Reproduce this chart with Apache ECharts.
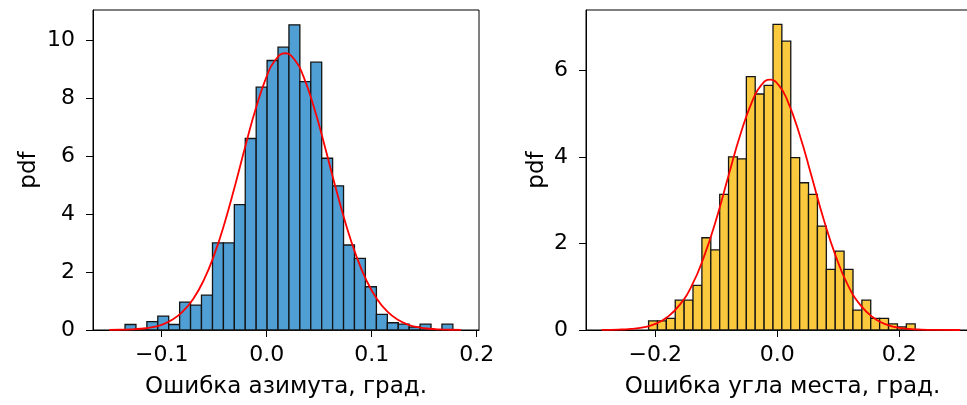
<!DOCTYPE html>
<html>
<head>
<meta charset="utf-8">
<script src="https://cdn.jsdelivr.net/npm/echarts@6/dist/echarts.min.js"></script>
<style>
  html, body { margin: 0; padding: 0; background: #fff; }
  #chart { width: 967px; height: 405px; }
</style>
</head>
<body>
<div id="chart"></div>
<script>
// азимут: края бинов и плотность
var azEdges = [-0.1349, -0.1245, -0.1141, -0.1037, -0.0933, -0.0829, -0.0725, -0.0621, -0.0516, -0.0412,
  -0.0308, -0.0204, -0.0100, 0.0004, 0.0108, 0.0212, 0.0316, 0.0420, 0.0524, 0.0628,
  0.0732, 0.0836, 0.0940, 0.1045, 0.1149, 0.1253, 0.1357, 0.1461, 0.1565, 0.1669, 0.1773]
var azDensity = [0.19, 0, 0.29, 0.48, 0.19, 0.96, 0.86, 1.2, 3.0, 3.0,
  4.32, 6.6, 8.37, 9.29, 9.75, 10.52, 8.56, 9.23, 5.92, 4.97,
  2.93, 2.47, 1.49, 0.54, 0.25, 0.2, 0.1, 0.2, 0, 0.2]
var azCurveX = [-0.15, -0.14, -0.13, -0.12, -0.11, -0.10, -0.09, -0.08, -0.07, -0.06, -0.05, -0.04, -0.03, -0.02, -0.01,
  0.0, 0.0075, 0.0175, 0.0275, 0.035, 0.045, 0.055, 0.065, 0.075, 0.085, 0.095, 0.105, 0.115, 0.125, 0.135, 0.145,
  0.155, 0.165, 0.175, 0.185]
var azCurveY = [0.003, 0.008, 0.019, 0.043, 0.091, 0.18, 0.35, 0.63, 1.07, 1.71, 2.59, 3.70, 5.0, 6.38, 7.68,
  8.74, 9.27, 9.54, 9.27, 8.74, 7.68, 6.38, 5.0, 3.70, 2.59, 1.71, 1.07, 0.63, 0.35, 0.18, 0.091,
  0.043, 0.019, 0.008, 0.003]

// угол места
var elEdges = [-0.2110, -0.1964, -0.1819, -0.1673, -0.1527, -0.1382, -0.1236, -0.1090, -0.0944, -0.0799,
  -0.0653, -0.0507, -0.0362, -0.0216, -0.0070, 0.0075, 0.0221, 0.0367, 0.0512, 0.0658,
  0.0804, 0.0950, 0.1095, 0.1241, 0.1387, 0.1532, 0.1678, 0.1824, 0.1970, 0.2115, 0.2261]
var elDensity = [0.21, 0.21, 0.27, 0.69, 0.69, 1.03, 2.13, 1.85, 3.13, 4.0,
  3.95, 5.85, 5.45, 5.65, 7.06, 6.67, 3.98, 3.4, 3.13, 2.4,
  1.4, 1.82, 1.4, 0.46, 0.69, 0.27, 0.27, 0.14, 0.07, 0.14]
var elCurveX = [-0.288, -0.26, -0.24, -0.22, -0.20, -0.18, -0.16, -0.14, -0.12, -0.10, -0.08, -0.06, -0.04, -0.026,
  -0.012, 0.002, 0.016, 0.036, 0.056, 0.076, 0.096, 0.116, 0.136, 0.156, 0.176, 0.196, 0.216, 0.236, 0.264, 0.30]
var elCurveY = [0.002, 0.009, 0.025, 0.061, 0.141, 0.30, 0.58, 1.03, 1.70, 2.56, 3.56, 4.54, 5.32, 5.66,
  5.78, 5.66, 5.32, 4.54, 3.56, 2.56, 1.70, 1.03, 0.58, 0.30, 0.141, 0.061, 0.025, 0.009, 0.002, 0.0]

var azTicksX = [-0.1, 0, 0.1, 0.2]
var azTicksY = [0, 2, 4, 6, 8, 10]
var elTicksX = [-0.2, 0, 0.2]
var elTicksY = [0, 2, 4, 6]

var font = 'DejaVu Sans'
var fsTick = 22
var fsName = 23

function histData(edges, dens) {
  return dens.map(function (d, i) { return [edges[i], edges[i + 1], d] })
}
function pairs(xs, ys) {
  return xs.map(function (x, i) { return [x, ys[i]] })
}
function fmtX(v) {
  return v.toFixed(1).replace('-', '\u2212')
}
function histItem(params, api) {
  var p0 = api.coord([api.value(0), api.value(2)])
  var p1 = api.coord([api.value(1), 0])
  return {
    type: 'rect',
    shape: { x: p0[0], y: p0[1], width: p1[0] - p0[0], height: p1[1] - p0[1] },
    style: { fill: api.visual('color'), stroke: '#141414', lineWidth: 1.3 }
  }
}
function xAx(grid, min, max, ticks, name) {
  return {
    type: 'value', gridIndex: grid, min: min, max: max,
    name: name, nameLocation: 'middle', nameGap: 46,
    nameTextStyle: { color: '#000', fontFamily: font, fontSize: fsName },
    axisLine: { show: true, onZero: false, lineStyle: { color: '#000', width: 1 } },
    axisTick: { show: true, length: 7, customValues: ticks, lineStyle: { color: '#000' } },
    axisLabel: { customValues: ticks, formatter: fmtX, margin: 14, color: '#000', fontFamily: font, fontSize: fsTick },
    splitLine: { show: false }
  }
}
function yAx(grid, max, ticks, gap) {
  return {
    type: 'value', gridIndex: grid, min: 0, max: max,
    name: 'pdf', nameLocation: 'middle', nameGap: gap,
    nameTextStyle: { color: '#000', fontFamily: font, fontSize: fsName },
    axisLine: { show: true, onZero: false, lineStyle: { color: '#000', width: 1 } },
    axisTick: { show: true, length: 7, customValues: ticks, lineStyle: { color: '#000' } },
    axisLabel: { customValues: ticks, margin: 18, color: '#000', fontFamily: font, fontSize: fsTick },
    splitLine: { show: false }
  }
}

var chart = echarts.init(document.getElementById('chart'), null, { renderer: 'canvas' })
chart.setOption({
  animation: false,
  backgroundColor: '#fff',
  grid: [
    { left: 93, top: 10, width: 386, height: 320, show: true, borderColor: '#000', borderWidth: 1, outerBoundsMode: 'none' },
    { left: 586, top: 10, width: 393, height: 320, show: true, borderColor: '#000', borderWidth: 1, outerBoundsMode: 'none' }
  ],
  xAxis: [
    xAx(0, -0.1654, 0.2022, azTicksX, 'Ошибка азимута, град.'),
    xAx(1, -0.3136, 0.3307, elTicksX, 'Ошибка угла места, град.')
  ],
  yAxis: [
    yAx(0, 11.03, azTicksY, 52),
    yAx(1, 7.39, elTicksY, 37)
  ],
  series: [
    {
      type: 'custom', xAxisIndex: 0, yAxisIndex: 0, color: '#4f9fd5',
      renderItem: histItem, encode: { x: [0, 1], y: 2 },
      data: histData(azEdges, azDensity)
    },
    {
      type: 'line', xAxisIndex: 0, yAxisIndex: 0, smooth: true, showSymbol: false, z: 5,
      lineStyle: { color: '#ff0000', width: 1.8 },
      data: pairs(azCurveX, azCurveY)
    },
    {
      type: 'custom', xAxisIndex: 1, yAxisIndex: 1, color: '#fbc93d',
      renderItem: histItem, encode: { x: [0, 1], y: 2 },
      data: histData(elEdges, elDensity)
    },
    {
      type: 'line', xAxisIndex: 1, yAxisIndex: 1, smooth: true, showSymbol: false, z: 5,
      lineStyle: { color: '#ff0000', width: 1.8 },
      data: pairs(elCurveX, elCurveY)
    }
  ]
})
</script>
</body>
</html>
